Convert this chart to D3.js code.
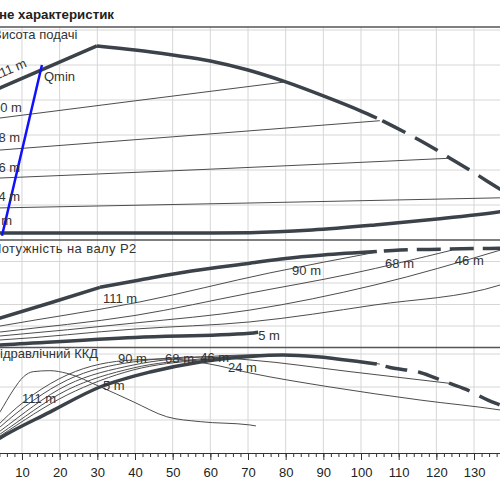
<!DOCTYPE html>
<html><head><meta charset="utf-8">
<script src="https://cdn.jsdelivr.net/npm/d3@7"></script>
<style>
html,body{margin:0;padding:0;background:#fff;}
svg{display:block;font-family:"Liberation Sans",Arial,sans-serif;}
</style></head>
<body><svg id="chart" width="500" height="500"></svg>
<script>
// ---------- DATA ----------
const qTicks = [10,20,30,40,50,60,70,80,90,100,110,120,130];
const qTickLabels = ["10","20","30","40","50","60","70","80","90","100","110","120","130"];
const qMinor = d3.range(0,141,2);
const headGrid = [25,50,75,100,125,150];
const powerGrid = [10,20,30,40];
const effGrid = [20,40,60];

// Head panel [Q, H m]
const headMaxSolid = [[0,104],[4.2,108.6],[29.9,138.6],[40,135.7],[50,132.1],[60,127.9],[70,121.4],[80,112.9],[90,102.9],[100,92.1],[104.2,87.1]];
const headMaxDashed = [[104.2,87.1],[106,84.7],[112.5,75.7],[117.8,67.9],[123.1,59.3],[128.4,50.7],[136.4,37.1],[140,31]];
const head90 = [[0,85.7],[40,99.4],[79.8,112.9]];
const head68 = [[0,63.4],[50,73.7],[105,85.2]];
const head46 = [[0,43.8],[60,50.6],[123.5,58.4]];
const head24 = [[0,22.7],[70,26.4],[140,30.3]];
const head5 = [[0,5],[60,5],[70.5,5.2],[87,7.1],[103.7,10.7],[120.2,15],[136.9,20.2],[140,21.4]];
const qMinLine = [[4.7,3],[15.3,125]];

// Power panel [Q, P2]
const powMaxSolid = [[0,11.5],[4.2,13.7],[17.4,20.7],[30.7,28],[41.3,31.4],[55,35.6],[70.5,39.2],[80,41.4],[90,43],[104.2,44.6]];
const powMaxDashed = [[104.2,44.6],[110.4,45.3],[121,45.7],[134.2,46.1],[140,46.2]];
const pow90 = [[0,8.7],[4.2,10],[41.3,21.2],[75.8,34.7],[104.2,44.4]];
const pow68 = [[0,6.3],[4.2,7.2],[40,14.9],[70.5,25.3],[97.1,34.2],[124.2,45.3]];
const pow46 = [[0,4.7],[4.2,5.35],[40,11.4],[70.5,17.4],[103.7,29.1],[137,45.3]];
const pow24 = [[0,3.1],[4.2,3.5],[40,8.6],[70.5,11.9],[103.7,19.8],[137,29.1],[140,31]];
const pow5 = [[0,0.8],[4.2,1.2],[40,4.65],[70.5,6.6],[72.7,7.1]];

// Efficiency panel [Q, eta %]
const effMaxSolid = [[0,3],[4.2,9.1],[17.4,24.8],[30.7,40],[44,49.1],[57.3,55.2],[70.5,58.5],[79.3,59.4],[88.3,58.4],[99.7,55.3],[104.2,53.9]];
const effMaxDashed = [[104.2,53.9],[107.7,51.8],[115.7,48.8],[121.8,43.6],[127.9,38.5],[133.7,32.1],[136.9,29.1],[140,26.2]];
const eff111 = [[0,4],[4.2,10.3],[22,35.2],[39.5,50.3],[57.3,56.4],[70.5,58.6],[73.2,58.8]];
const eff90 = [[0,5],[4.2,11.5],[22,38.2],[39.5,51.5],[57.3,57],[73.2,59.4],[79.8,59.1]];
const eff68 = [[0,6],[4.2,13.3],[22,41.2],[39.5,53.3],[57.3,58.2],[78.5,59.7],[91.8,57.6],[105,53.9]];
const eff46 = [[0,7],[4.2,15.8],[22,44.2],[39.5,55.2],[57.3,58.2],[70.5,56.4],[97.1,49.3],[123.6,42.2]];
const eff24 = [[0,8],[4.2,18.2],[22,47.3],[39.5,56.4],[49.3,57],[59.9,53.9],[70.5,48.5],[91.8,40],[115.7,32.1],[136.9,26.1],[140,25]];
const eff5 = [[0,10],[4.2,25],[7.7,38.2],[10.4,46.2],[13,49.3],[17.4,49.9],[21.9,48.3],[30.7,40.2],[39.5,31.1],[48.4,22],[57.3,19],[70.5,17],[72.1,16.4]];

// Labels [text, Q, value]
const headLabels = [["90 m",2.3,91.4],["68 m",1.83,70],["46 m",1.83,48.6],["24 m",1.83,27.9],["5 m",1.6,10.7]];
const headRotLabel = ["111 m",3.1,114.3];
const qMinLabel = ["Qmin",15.85,113.6];
const powLabels = [["111 m",31.5,20.7],["90 m",81.7,33.7],["68 m",106.4,37],["46 m",124.9,38.4],["5 m",72.7,3.5]];
const effLabels = [["90 m",35.5,54.5],["68 m",48,54.5],["46 m",57.3,55.2],["24 m",64.7,49.1],["5 m",31.5,38.2],["111 m",10,30.3]];

// ---------- DRAW ----------
const svg = d3.select("#chart");
const x = d3.scaleLinear().domain([0,140]).range([-15.7,511.7]);
const yH = d3.scaleLinear().domain([0,150]).range([240,30]);
const yP = d3.scaleLinear().domain([0,50]).range([347.5,240]);
const yE = d3.scaleLinear().domain([0,64]).range([453,347.4]);

const gridC = "#d6d6d6", thickC = "#3b424a", thinC = "#4d4d4d", txtC = "#333";

// vertical gridlines
svg.append("g").selectAll("line").data(qTicks).join("line")
  .attr("x1",d=>x(d)).attr("x2",d=>x(d)).attr("y1",27).attr("y2",453)
  .attr("stroke",gridC).attr("stroke-width",1);
// horizontal gridlines
function hgrid(vals, y){
  svg.append("g").selectAll("line").data(vals).join("line")
    .attr("x1",0).attr("x2",500).attr("y1",d=>y(d)).attr("y2",d=>y(d))
    .attr("stroke",gridC).attr("stroke-width",1);
}
hgrid(headGrid,yH); hgrid(powerGrid,yP); hgrid(effGrid,yE);

// panel borders
[27, yH(0), yP(0)].forEach(v=>{
  svg.append("line").attr("x1",0).attr("x2",500).attr("y1",v).attr("y2",v)
    .attr("stroke","#555").attr("stroke-width",1.5);
});

function curve(data, y, w, color, dash, offset){
  const line = d3.line().x(d=>x(d[0])).y(d=>y(d[1])).curve(d3.curveMonotoneX);
  const p = svg.append("path").datum(data).attr("d",line)
    .attr("fill","none").attr("stroke",color).attr("stroke-width",w)
    .attr("stroke-linejoin","round");
  if(dash) p.attr("stroke-dasharray",dash).attr("stroke-dashoffset",offset||0);
  return p;
}

// Head
[head90,head68,head46,head24].forEach(d=>curve(d,yH,1,thinC));
curve(head5,yH,3.5,thickC);
svg.append("path").datum(headMaxSolid.slice(0,3))
  .attr("d",d3.line().x(d=>x(d[0])).y(d=>yH(d[1])))
  .attr("fill","none").attr("stroke",thickC).attr("stroke-width",3.5).attr("stroke-linejoin","round");
curve(headMaxSolid.slice(2),yH,3.5,thickC);
curve(headMaxDashed,yH,3.5,thickC,"26 11",31);
svg.append("path").datum(qMinLine)
  .attr("d",d3.line().x(d=>x(d[0])).y(d=>yH(d[1])))
  .attr("stroke","#1010ff").attr("stroke-width",2.5).attr("fill","none");

// Power
[pow90,pow68,pow46,pow24].forEach(d=>curve(d,yP,1,thinC));
curve(pow5,yP,3.5,thickC);
curve(powMaxSolid.slice(0,4),yP,3.5,thickC);
curve(powMaxSolid.slice(3),yP,3.5,thickC);
curve(powMaxDashed,yP,3.5,thickC,"24 9",26);

// Efficiency
[eff111,eff90,eff68,eff46,eff24,eff5].forEach(d=>curve(d,yE,1,thinC));
curve(effMaxSolid,yE,3.5,thickC);
curve(effMaxDashed,yE,3.5,thickC,"22 11",24);

// Labels
function labels(arr,y){
  svg.append("g").selectAll("text").data(arr).join("text")
    .attr("x",d=>x(d[1])).attr("y",d=>y(d[2])).text(d=>d[0])
    .attr("font-size",13).attr("fill",txtC);
}
labels(headLabels,yH); labels(powLabels,yP); labels(effLabels,yE);
svg.append("text").attr("transform",`translate(${x(headRotLabel[1])},${yH(headRotLabel[2])}) rotate(-23)`)
  .text(headRotLabel[0]).attr("font-size",13).attr("fill",txtC);
svg.append("text").attr("x",x(qMinLabel[1])).attr("y",yH(qMinLabel[2]))
  .text(qMinLabel[0]).attr("font-size",13).attr("fill",txtC);

// Panel titles
svg.append("text").attr("x",-1).attr("y",19).text("не характеристик")
  .attr("font-size",13.3).attr("font-weight","bold").attr("fill","#222");
svg.append("text").attr("x",-7).attr("y",39).text("Висота подачі").attr("font-size",13).attr("fill",txtC);
svg.append("text").attr("x",-8).attr("y",253).text("Потужність на валу  P2").attr("font-size",13)
  .attr("letter-spacing",0.4).attr("fill",txtC);
svg.append("text").attr("x",-7).attr("y",358).text("Гідравлічний ККД").attr("font-size",13).attr("fill",txtC);

// X axis
const ax = svg.append("g").attr("transform","translate(0,453)");
ax.call(d3.axisBottom(x).tickValues(qTicks).tickFormat((d,i)=>qTickLabels[i]).tickSize(7).tickPadding(8));
ax.append("g").call(d3.axisBottom(x).tickValues(qMinor).tickSize(4).tickFormat(""))
  .call(g=>g.select(".domain").remove());
ax.selectAll("path.domain").attr("stroke","#333");
ax.selectAll("line").attr("stroke","#333");
ax.selectAll("text").attr("font-size",13).attr("fill","#222").attr("font-family","Liberation Sans, Arial, sans-serif");
</script></body></html>
